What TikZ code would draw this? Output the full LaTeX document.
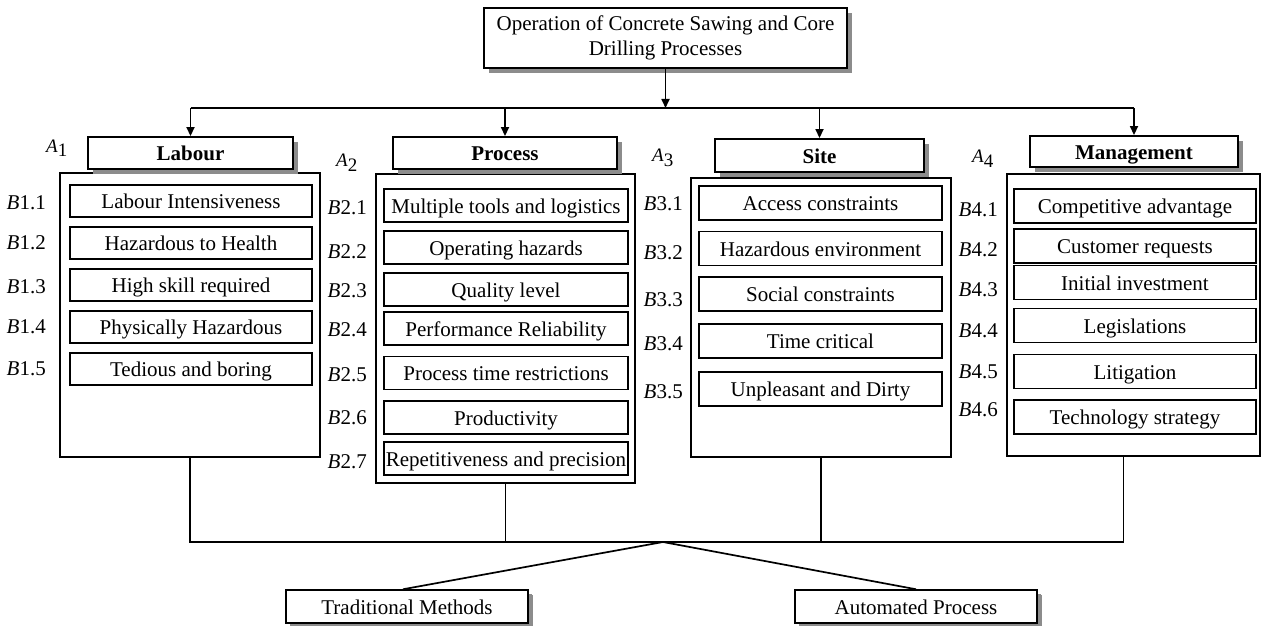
\documentclass[tikz,border=0pt]{standalone}
\usepackage{fontspec}
\setmainfont{Liberation Serif}
\usetikzlibrary{shadows,arrows.meta}
\begin{document}
\begin{tikzpicture}[x=1pt,y=-1pt,
 every node/.style={font=\fontsize{21}{25}\selectfont, inner sep=0pt},
 conn/.style={line width=1.7pt},
 arr/.style={line width=1.7pt,-{Triangle[length=9pt,width=8pt]}},
 shbox/.style={draw, line width=1.9pt, fill=white, drop shadow={shadow xshift=5pt, shadow yshift=-5pt, fill=black!45, opacity=1}},
 tx/.style={text height=15pt, text depth=0pt},
 hdr/.style={shbox, tx, font=\fontsize{21}{25}\selectfont\bfseries},
 outer/.style={draw, line width=1.5pt},
 item/.style={draw, tx, line width=1.9pt, minimum height=33pt},
 blab/.style={anchor=east, font=\fontsize{21}{25}\selectfont},
 alab/.style={anchor=base west, font=\fontsize{19}{20}\selectfont}
]
\useasboundingbox (0,0) rectangle (1262,626);

% outer boxes
\node[outer, minimum width=260pt, minimum height=284pt] (o1) at (190,315) {};
\node[outer, minimum width=259pt, minimum height=309pt] (o2) at (505.5,328.5) {};
\node[outer, minimum width=260pt, minimum height=279pt] (o3) at (821,317.5) {};
\node[outer, minimum width=253pt, minimum height=282pt] (o4) at (1133.5,315) {};

% title
\node[shbox, minimum width=363pt, minimum height=60pt, align=center] (top) at (665.5,38) {Operation of Concrete Sawing and Core\\Drilling Processes};

% headers
\node[hdr, minimum width=205pt, minimum height=32pt] (h1) at (190.5,153) {Labour};
\node[hdr, minimum width=224pt, minimum height=32pt] (h2) at (505,153) {Process};
\node[hdr, minimum width=209pt, minimum height=33pt] (h3) at (819.5,155.5) {Site};
\node[hdr, minimum width=208pt, minimum height=31pt] (h4) at (1134,151.5) {Management};

% A labels
\node[alab] (a1) at (46,152) {\textit{A}\raisebox{-5pt}{1}};
\node[alab] (a2) at (336,166) {\textit{A}\raisebox{-5pt}{2}};
\node[alab] (a3) at (652,161) {\textit{A}\raisebox{-5pt}{3}};
\node[alab] (a4) at (972,162) {\textit{A}\raisebox{-5pt}{4}};

% Labour items
\foreach \y/\t/\n in {201/Labour Intensiveness/1, 243/Hazardous to Health/2, 285/High skill required/3, 327/Physically Hazardous/4, 369/Tedious and boring/5}
  \node[item, minimum width=242pt, minimum height=32pt] (l\n) at (191,\y) {\t};
\foreach \y/\n in {203/1, 243/2, 287/3, 327/4, 369/5}
  \node[blab] (bl\n) at (46,\y) {\textit{B}1.\n};

% Process items
\foreach \y/\t/\n in {205.5/Multiple tools and logistics/1, 247.5/Operating hazards/2, 289.5/Quality level/3, 328.5/Performance Reliability/4, 373/Process time restrictions/5, 417.5/Productivity/6, 458.5/Repetitiveness and precision/7}
  \node[item, minimum width=244pt] (p\n) at (506,\y) {\t};
\foreach \y/\n in {208/1, 252/2, 291/3, 330/4, 375/5, 418/6, 462/7}
  \node[blab] (bp\n) at (367,\y) {\textit{B}2.\n};

% Site items
\foreach \y/\t/\n in {203/Access constraints/1, 248.5/Hazardous environment/2, 294/Social constraints/3, 341/Time critical/4, 389/Unpleasant and Dirty/5}
  \node[item, minimum width=243pt, minimum height=34pt] (s\n) at (820.5,\y) {\t};
\foreach \y/\n in {204/1, 253/2, 300/3, 344/4, 392/5}
  \node[blab] (bs\n) at (683,\y) {\textit{B}3.\n};

% Management items
\foreach \y/\t/\n in {206/Competitive advantage/1, 246/Customer requests/2, 282.5/Initial investment/3, 325.5/Legislations/4, 371.5/Litigation/5, 417/Technology strategy/6}
  \node[item, minimum width=242pt, minimum height=34pt] (m\n) at (1135,\y) {\t};
\foreach \y/\n in {210/1, 250/2, 290/3, 331/4, 372/5, 410/6}
  \node[blab] (bm\n) at (998,\y) {\textit{B}4.\n};

% bottom boxes
\node[shbox, tx, line width=1.5pt, minimum width=242pt, minimum height=33pt, drop shadow={shadow xshift=4pt, shadow yshift=-4pt, fill=black!45, opacity=1}] (trad) at (407,606.5) {Traditional Methods};
\node[shbox, tx, line width=1.5pt, minimum width=242pt, minimum height=33pt, drop shadow={shadow xshift=4pt, shadow yshift=-4pt, fill=black!45, opacity=1}] (auto) at (916,606.5) {Automated Process};

% top connectors
\coordinate (hl) at (666,108);
\draw[arr] (top.south) -- (top.south |- hl);
\draw[conn] (h1.north |- hl) -- (h4.north |- hl);
\foreach \h in {h1,h2,h3,h4}
  \draw[arr] (\h.north |- hl) -- (\h.north);

% bottom connectors
\coordinate (hub) at (663,542);
\draw[conn] (o1.south) |- (hub);
\draw[conn] (o2.south) |- (hub);
\draw[conn] (o3.south) |- (hub);
\draw[conn] ([xshift=-10pt]o4.south) |- (hub);
\draw[conn] (hub) -- ([xshift=-4pt]trad.north);
\draw[conn] (hub) -- (auto.north);
\end{tikzpicture}
\end{document}
